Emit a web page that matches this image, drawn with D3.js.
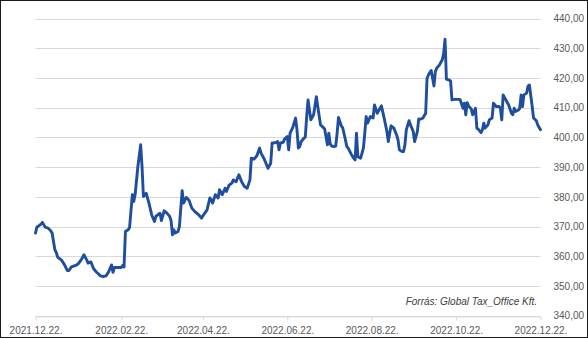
<!DOCTYPE html>
<html>
<head>
<meta charset="utf-8">
<script src="https://cdn.jsdelivr.net/npm/d3@7"></script>
<style>
  body { margin: 0; background: #fff; }
  svg text { font-family: "Liberation Sans", Arial, sans-serif; }
</style>
</head>
<body>
<div id="chart"></div>
<script>
//Dates of the observations
var dates = [
  "2021-12-22","2021-12-23","2021-12-26","2021-12-27","2021-12-29","2021-12-31",
  "2022-01-02","2022-01-03","2022-01-05","2022-01-06","2022-01-07","2022-01-10","2022-01-12","2022-01-14","2022-01-15","2022-01-17","2022-01-20","2022-01-22","2022-01-24","2022-01-26","2022-01-28","2022-01-29","2022-01-31",
  "2022-02-02","2022-02-04","2022-02-07","2022-02-09","2022-02-11","2022-02-13","2022-02-15","2022-02-16","2022-02-17","2022-02-20","2022-02-22","2022-02-23","2022-02-24","2022-02-25","2022-02-27","2022-02-28",
  "2022-03-02","2022-03-03","2022-03-04","2022-03-06","2022-03-08","2022-03-09","2022-03-10","2022-03-12","2022-03-14","2022-03-16","2022-03-18","2022-03-19","2022-03-21","2022-03-22","2022-03-23","2022-03-25","2022-03-27","2022-03-29","2022-03-30","2022-03-31",
  "2022-04-01","2022-04-02","2022-04-04","2022-04-05","2022-04-07","2022-04-08","2022-04-10","2022-04-12","2022-04-14","2022-04-16","2022-04-19","2022-04-20","2022-04-21","2022-04-22","2022-04-25","2022-04-27","2022-04-28","2022-04-29",
  "2022-05-01","2022-05-03","2022-05-04","2022-05-06","2022-05-08","2022-05-09","2022-05-11","2022-05-13","2022-05-14","2022-05-16","2022-05-18","2022-05-20","2022-05-22","2022-05-24","2022-05-26","2022-05-27","2022-05-29","2022-05-31",
  "2022-06-02","2022-06-03","2022-06-05","2022-06-07","2022-06-08","2022-06-10","2022-06-11","2022-06-12","2022-06-14","2022-06-15","2022-06-16","2022-06-17","2022-06-19","2022-06-20","2022-06-22","2022-06-23","2022-06-24","2022-06-26","2022-06-28","2022-06-29","2022-06-30",
  "2022-07-01","2022-07-02","2022-07-04","2022-07-05","2022-07-06","2022-07-07","2022-07-09","2022-07-11","2022-07-13","2022-07-14","2022-07-16","2022-07-18","2022-07-19","2022-07-21","2022-07-22","2022-07-23","2022-07-24","2022-07-26","2022-07-27","2022-07-28","2022-07-29","2022-07-31",
  "2022-08-01","2022-08-03","2022-08-04","2022-08-05","2022-08-07","2022-08-09","2022-08-10","2022-08-11","2022-08-12","2022-08-14","2022-08-16","2022-08-17","2022-08-18","2022-08-19","2022-08-21","2022-08-23","2022-08-24","2022-08-26","2022-08-28","2022-08-29","2022-08-31",
  "2022-09-02","2022-09-03","2022-09-04","2022-09-05","2022-09-07","2022-09-09","2022-09-10","2022-09-11","2022-09-13","2022-09-14","2022-09-15","2022-09-16","2022-09-18","2022-09-19","2022-09-21","2022-09-22","2022-09-24","2022-09-25","2022-09-26","2022-09-28","2022-09-30",
  "2022-10-01","2022-10-02","2022-10-03","2022-10-04","2022-10-06","2022-10-07","2022-10-08","2022-10-10","2022-10-12","2022-10-13","2022-10-14","2022-10-15","2022-10-17","2022-10-18","2022-10-19","2022-10-21","2022-10-24","2022-10-25","2022-10-27","2022-10-28","2022-10-29","2022-10-30","2022-10-31",
  "2022-11-02","2022-11-03","2022-11-05","2022-11-06","2022-11-07","2022-11-09","2022-11-10","2022-11-11","2022-11-12","2022-11-14","2022-11-15","2022-11-17","2022-11-18","2022-11-20","2022-11-22","2022-11-23","2022-11-24","2022-11-25","2022-11-27","2022-11-29",
  "2022-12-01","2022-12-02","2022-12-03","2022-12-04","2022-12-06","2022-12-07","2022-12-08","2022-12-09","2022-12-10","2022-12-12","2022-12-13","2022-12-14","2022-12-16","2022-12-17","2022-12-19","2022-12-20","2022-12-22"
];

//Exchange rate values
var rates = [
  367.8,369.8,370.8,371.4,369.8,369.5,
  368.6,367.8,362.2,361.3,359.7,358.6,357.1,355.2,355.2,356.4,356.9,357.5,358.8,360.5,358.8,357.7,358.1,
  355.8,354.7,353.4,353.2,353.4,354.9,357.1,354.6,356.2,356.2,356.2,356.9,356.4,368.3,368.9,369.7,
  380.7,378.4,380.7,390.2,397.5,390.2,380.1,381.2,377.9,373.9,371.7,373.4,374.2,374.5,372.0,375.3,374.5,373.4,372.0,367.2,
  368.9,367.8,368.3,370.0,382.1,377.9,379.8,378.8,376.2,375.1,373.9,373.4,372.8,373.6,375.6,379.6,379.0,377.9,
  380.7,379.6,382.4,380.7,382.9,381.8,384.0,384.6,385.7,385.1,387.4,385.1,383.5,382.9,385.7,393.0,392.7,393.8,
  396.4,394.7,393.0,390.8,389.6,391.3,398.1,398.1,398.3,398.6,395.8,398.1,398.3,399.4,400.3,395.8,401.4,403.4,406.5,402.5,396.4,
  396.9,398.6,399.7,400.1,407.0,412.6,405.9,407.6,413.7,410.4,404.2,403.3,402.8,397.5,401.4,397.8,397.1,396.9,397.1,401.4,406.7,403.9,
  403.3,399.2,396.9,396.4,394.5,393.0,392.4,401.4,393.5,393.0,396.4,401.4,407.0,404.8,407.0,406.5,410.9,408.1,409.8,410.6,406.5,
  402.0,398.6,401.4,403.9,403.1,400.8,399.2,395.8,395.2,395.2,397.5,402.5,405.6,404.2,402.0,398.6,402.0,406.2,406.1,406.5,408.1,
  419.9,421.0,421.8,422.5,417.3,422.1,423.3,424.4,426.1,428.3,433.0,419.6,419.3,419.0,412.6,412.8,412.8,412.6,409.8,411.5,407.6,411.7,410.6,
  409.5,407.6,409.8,403.1,402.8,401.6,402.5,404.8,403.1,404.2,405.9,406.5,411.5,410.4,410.4,409.8,405.9,414.3,412.6,410.9,
  408.1,407.6,409.8,408.7,409.2,409.8,414.3,410.4,414.3,414.9,417.3,417.6,410.4,406.5,405.6,404.2,402.6
];

//Axis ticks
var xTicks = ["2021-12-22","2022-02-22","2022-04-22","2022-06-22","2022-08-22","2022-10-22","2022-12-22"];
var yTicks = [340, 350, 360, 370, 380, 390, 400, 410, 420, 430, 440];

var sourceNote = "Forrás: Global Tax_Office Kft.";

var width = 588, height = 338;
var plot = {left: 35.5, right: 540.5, top: 18.5, bottom: 315.7};

var parse = d3.timeParse("%Y-%m-%d");
var data = dates.map(function(d, i) { return {date: parse(d), value: rates[i]}; });

var svg = d3.select("#chart").append("svg")
    .attr("width", width)
    .attr("height", height);

svg.append("rect")
    .attr("x", 0.5).attr("y", 0.5)
    .attr("width", width - 1).attr("height", height - 1)
    .attr("fill", "#fff")
    .attr("stroke", "#1a1a1a")
    .attr("stroke-width", 1);

var x = d3.scaleTime()
    .domain([parse(xTicks[0]), parse(xTicks[xTicks.length - 1])])
    .range([plot.left, plot.right]);

var y = d3.scaleLinear()
    .domain([340, 440])
    .range([plot.bottom, plot.top]);

//horizontal gridlines
svg.append("g")
    .selectAll("line")
    .data(yTicks)
    .enter().append("line")
    .attr("x1", plot.left)
    .attr("x2", plot.right)
    .attr("y1", function(d) { return Math.round(y(d)) + 0.5; })
    .attr("y2", function(d) { return Math.round(y(d)) + 0.5; })
    .attr("stroke", "#d9d9d9")
    .attr("stroke-width", 1);

//y labels on the right
var fmt = d3.format(".2f");
svg.append("g")
    .attr("transform", "translate(" + plot.right + ",0)")
    .call(d3.axisRight(y).tickValues(yTicks).tickSize(0).tickPadding(13)
        .tickFormat(function(d) { return fmt(d).replace(".", ","); }))
    .call(function(g) { g.select(".domain").remove(); })
    .selectAll("text")
    .attr("fill", "#595959")
    .style("font-size", "10px");

//x axis
svg.append("g")
    .attr("transform", "translate(0," + (Math.round(plot.bottom) + 0.5) + ")")
    .call(d3.axisBottom(x).tickValues(xTicks.map(parse)).tickSize(4).tickSizeOuter(0).tickPadding(6)
        .tickFormat(d3.timeFormat("%Y.%m.%d.")))
    .call(function(g) {
        g.select(".domain").attr("stroke", "#d9d9d9");
        g.selectAll(".tick line").attr("stroke", "#d9d9d9");
    })
    .selectAll("text")
    .attr("fill", "#595959")
    .style("font-size", "10px");

//the rate line
var line = d3.line()
    .x(function(d) { return x(d.date); })
    .y(function(d) { return y(d.value); });

svg.append("path")
    .datum(data)
    .attr("d", line)
    .attr("fill", "none")
    .attr("stroke", "#1f4e9e")
    .attr("stroke-width", 2.9)
    .attr("stroke-linejoin", "round")
    .attr("stroke-linecap", "round");

//source note
svg.append("text")
    .attr("x", 537)
    .attr("y", 305)
    .attr("text-anchor", "end")
    .attr("fill", "#404040")
    .style("font-size", "10px")
    .style("font-style", "italic")
    .text(sourceNote);
</script>
</body>
</html>
